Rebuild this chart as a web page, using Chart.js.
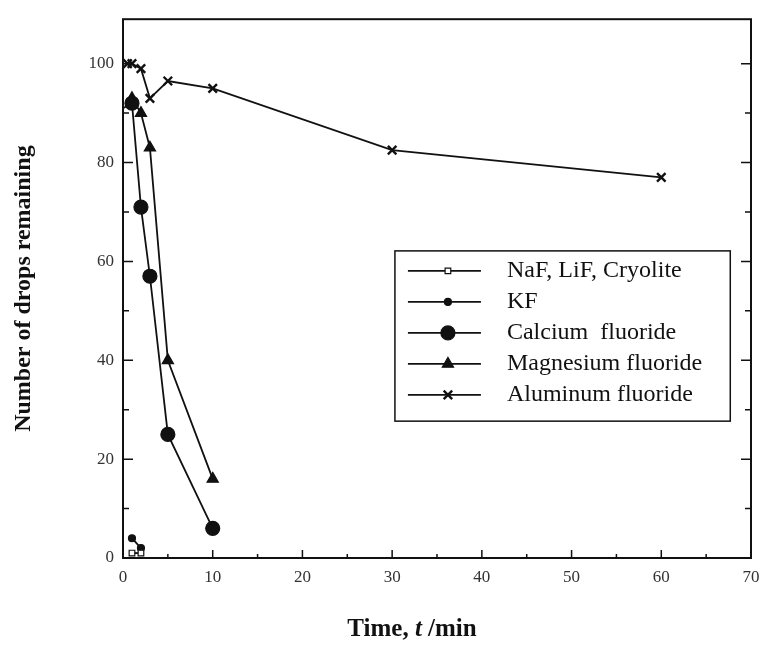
<!DOCTYPE html>
<html>
<head>
<meta charset="utf-8">
<script src="https://cdn.jsdelivr.net/npm/chart.js@4.4.1/dist/chart.umd.min.js"></script>
<style>
  html, body { margin: 0; padding: 0; background: #fff; }
  #wrap { width: 762px; height: 646px; }
</style>
</head>
<body>
<div id="wrap"><canvas id="chart"></canvas></div>
<script>
// data (time in min, drops remaining)
const seriesNames = ['NaF, LiF, Cryolite', 'KF', 'Calcium  fluoride', 'Magnesium fluoride', 'Aluminum fluoride'];
const nafTime = [1, 2];
const nafDrops = [1, 1];
const kfTime = [1, 2];
const kfDrops = [4, 2];
const caTime = [0, 1, 2, 3, 5, 10];
const caDrops = [91, 92, 71, 57, 25, 6];
const mgTime = [1, 2, 3, 5, 10];
const mgDrops = [93, 90, 83, 40, 16];
const alTime = [0.5, 1, 2, 3, 5, 10, 30, 60];
const alDrops = [100, 100, 99, 93, 96.5, 95, 82.5, 77];
const xTickValues = [0, 10, 20, 30, 40, 50, 60, 70];
const yTickValues = [0, 20, 40, 60, 80, 100];

const ink = '#111';
const serif = '"Liberation Serif", "DejaVu Serif", serif';

function pts(xs, ys) {
  return xs.map((x, i) => ({ x: x, y: ys[i] }));
}

function series(label, xs, ys, style, radius, fill) {
  return {
    label: label,
    data: pts(xs, ys),
    borderColor: ink,
    borderWidth: 1.8,
    pointStyle: style,
    pointRadius: radius,
    pointBackgroundColor: fill,
    pointBorderColor: ink,
    pointBorderWidth: style === 'crossRot' ? 2.4 : 1.2,
    tension: 0,
    clip: false
  };
}

const datasets = [
  series(seriesNames[0], nafTime, nafDrops, 'rect', 4, '#fff'),
  series(seriesNames[1], kfTime, kfDrops, 'circle', 3.5, ink),
  series(seriesNames[2], caTime, caDrops, 'circle', caTime.map(t => t === 0 ? 0 : 7), ink),
  series(seriesNames[3], mgTime, mgDrops, 'triangle', 6.5, ink),
  series(seriesNames[4], alTime, alDrops, 'crossRot', 6, ink)
];

// frame, inward ticks, legend and x title
const decor = {
  id: 'decor',
  afterDraw(chart) {
    const c = chart.ctx;
    const a = chart.chartArea;
    const xs = chart.scales.x;
    const ys = chart.scales.y;
    c.save();
    c.strokeStyle = ink;
    c.lineWidth = 2;
    c.strokeRect(a.left, a.top, a.right - a.left, a.bottom - a.top);

    c.lineWidth = 1.5;
    c.beginPath();
    for (let v = 0; v <= 100; v += 10) {
      const y = ys.getPixelForValue(v);
      const len = v % 20 === 0 ? 10 : 6;
      c.moveTo(a.left, y); c.lineTo(a.left + len, y);
      c.moveTo(a.right, y); c.lineTo(a.right - len, y);
    }
    for (let v = 5; v < 70; v += 5) {
      const x = xs.getPixelForValue(v);
      const len = v % 10 === 0 ? 8 : 4;
      c.moveTo(x, a.bottom); c.lineTo(x, a.bottom - len);
    }
    c.stroke();

    // legend box
    const w = a.right - a.left, h = a.bottom - a.top;
    const bx = a.left + 0.433 * w, by = a.top + 0.43 * h;
    const bw = 0.534 * w, bh = 0.316 * h;
    c.lineWidth = 1.5;
    c.strokeRect(bx, by, bw, bh);
    c.font = '24px ' + serif;
    c.textBaseline = 'middle';
    c.fillStyle = ink;
    chart.data.datasets.forEach((ds, i) => {
      const y = by + 20 + i * 31;
      c.lineWidth = 1.6;
      c.beginPath();
      c.moveTo(bx + 13, y); c.lineTo(bx + 86, y);
      c.stroke();
      const r = Array.isArray(ds.pointRadius) ? ds.pointRadius[1] : ds.pointRadius;
      c.fillStyle = ds.pointBackgroundColor;
      c.lineWidth = ds.pointBorderWidth;
      Chart.helpers.drawPoint(c, { pointStyle: ds.pointStyle, radius: r, borderWidth: ds.pointBorderWidth }, bx + 53, y);
      c.fillStyle = ink;
      c.fillText(ds.label, bx + 112, y);
    });

    // x axis title with italic t
    const parts = [['Time, ', 'bold'], ['t', 'bold italic'], [' /min', 'bold']];
    let total = 0;
    parts.forEach(p => { c.font = p[1] + ' 25px ' + serif; total += c.measureText(p[0]).width; });
    let px = 412 - total / 2;
    c.textBaseline = 'alphabetic';
    parts.forEach(p => {
      c.font = p[1] + ' 25px ' + serif;
      c.fillText(p[0], px, 636);
      px += c.measureText(p[0]).width;
    });
    c.restore();
  }
};

new Chart(document.getElementById('chart'), {
  type: 'line',
  data: { datasets: datasets },
  options: {
    responsive: true,
    maintainAspectRatio: false,
    animation: false,
    layout: { padding: { top: 18, right: 11, bottom: 0, left: 0 } },
    plugins: { legend: { display: false }, tooltip: { enabled: false } },
    scales: {
      x: {
        type: 'linear',
        min: 0, max: 70,
        afterFit(scale) { scale.height = 88; scale.paddingRight = 0; scale.paddingLeft = 0; },
        afterBuildTicks(scale) { scale.ticks = xTickValues.map(v => ({ value: v })); },
        grid: { display: false, drawTicks: false },
        border: { display: false },
        ticks: { font: { family: serif, size: 17 }, color: '#333', padding: 9, maxRotation: 0 }
      },
      y: {
        type: 'linear',
        min: 0, max: 109,
        afterFit(scale) { scale.width = 123; },
        afterBuildTicks(scale) { scale.ticks = yTickValues.map(v => ({ value: v })); },
        grid: { display: false, drawTicks: false },
        border: { display: false },
        ticks: { font: { family: serif, size: 17 }, color: '#333', padding: 9 },
        title: {
          display: true,
          text: 'Number of drops remaining',
          font: { family: serif, size: 24, weight: 'bold' },
          color: ink,
          padding: { top: 9, bottom: 0 }
        }
      }
    }
  },
  plugins: [decor]
});
</script>
</body>
</html>
